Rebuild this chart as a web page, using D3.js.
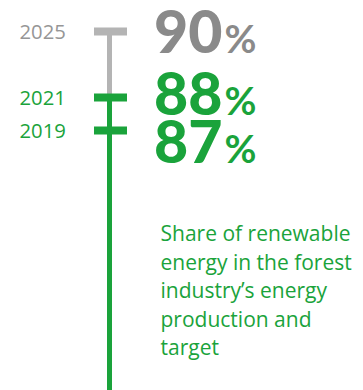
<!DOCTYPE html>
<html>
<head>
<meta charset="utf-8">
<script src="https://cdn.jsdelivr.net/npm/d3@7/dist/d3.min.js"></script>
<style>
  html, body { margin: 0; padding: 0; background: #ffffff; }
  svg { display: block; }
</style>
</head>
<body>
<svg id="chart" width="363" height="390"></svg>
<script>
// ---- data ----
const years = ["2025", "2021", "2019"];
const shares = [90, 88, 87];
const kinds = ["target", "actual", "actual"];
const descriptionLines = [
  "Share of renewable",
  "energy in the forest",
  "industry\u2019s energy",
  "production and",
  "target"
];

// ---- style ----
const GREEN = "#1aa33b";
const GRAY_BAR = "#b4b4b4";
const GRAY_TEXT = "#8a8a8a";
const GRAY_YEAR = "#969696";
const W = 363, H = 390;
const stemX = 109.5, stemW = 5, capW = 33, capH = 8;

const svg = d3.select("#chart");
const y = d3.scaleLinear().domain([90, 87]).range([31.5, 130.5]);

const data = years.map((yr, i) => ({ year: yr, value: shares[i], kind: kinds[i] }));
const actual = data.filter(d => d.kind === "actual");
const target = data.filter(d => d.kind === "target");
const latestActual = d3.max(actual, d => d.value);
const targetVal = d3.max(target, d => d.value);

// stems
svg.append("rect")
  .attr("x", stemX - stemW / 2).attr("width", stemW)
  .attr("y", y(targetVal)).attr("height", y(latestActual) - y(targetVal))
  .attr("fill", GRAY_BAR);
svg.append("rect")
  .attr("x", stemX - stemW / 2).attr("width", stemW)
  .attr("y", y(latestActual)).attr("height", H - y(latestActual))
  .attr("fill", GREEN);

// caps
svg.selectAll("rect.cap").data(data).join("rect")
  .attr("class", "cap")
  .attr("x", stemX + 1 - capW / 2).attr("width", capW)
  .attr("y", d => y(d.value) - capH / 2).attr("height", capH)
  .attr("fill", d => d.kind === "target" ? GRAY_BAR : GREEN);

// year labels
svg.selectAll("text.year").data(data).join("text")
  .attr("class", "year")
  .attr("x", 19.5)
  .attr("y", d => y(d.value) + 7.5)
  .attr("font-family", "'Open Sans', sans-serif")
  .attr("font-size", 20.3)
  .attr("fill", d => d.kind === "target" ? GRAY_YEAR : GREEN)
  .text(d => d.year);

// value label layout: avoid overlap
const minGap = 48.5;
const centers = data.map(d => y(d.value));
for (let iter = 0; iter < 10; iter++) {
  for (let i = 1; i < centers.length; i++) {
    const gap = centers[i] - centers[i - 1];
    if (gap < minGap) {
      const mid = (centers[i] + centers[i - 1]) / 2 + 4;
      centers[i - 1] = mid - minGap / 2;
      centers[i] = mid + minGap / 2;
    }
  }
}

const valueText = svg.selectAll("text.value").data(data).join("text")
  .attr("class", "value")
  .attr("x", 154)
  .attr("y", (d, i) => centers[i] + 21)
  .attr("font-family", "Lato, 'Open Sans', sans-serif")
  .attr("fill", d => d.kind === "target" ? GRAY_TEXT : GREEN);
valueText.append("tspan")
  .attr("font-size", 59).attr("font-weight", 900)
  .text(d => d.value);
valueText.append("tspan")
  .attr("font-size", 39).attr("font-weight", 700)
  .attr("dx", 2)
  .text("%");

// description
svg.append("text")
  .attr("font-family", "'Open Sans', sans-serif")
  .attr("font-size", 21)
  .attr("fill", GREEN)
  .selectAll("tspan").data(descriptionLines).join("tspan")
  .attr("x", 160.5)
  .attr("y", (d, i) => 241 + i * 28.5)
  .text(d => d);
</script>
</body>
</html>
